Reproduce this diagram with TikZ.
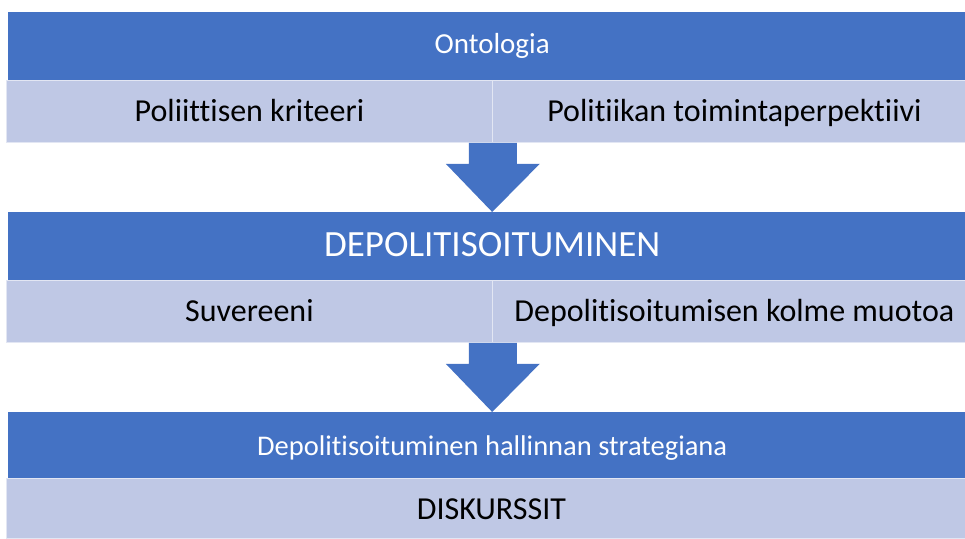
\documentclass[tikz,border=0pt]{standalone}
\usepackage{fontspec}
\setmainfont{Carlito}[Ligatures={NoCommon}]
\usetikzlibrary{calc}
\definecolor{darkblue}{HTML}{4472C4}
\definecolor{lightblue}{HTML}{BFC8E5}

\begin{document}
\begin{tikzpicture}[
    x=1pt, y=-1pt,
    %
    head/.style={fill=darkblue, text=white, minimum width=968pt, minimum height=68pt,
                 inner sep=0pt, anchor=north west, text height=20pt, text depth=0pt},
    cell/.style={fill=lightblue, draw=lightblue!45!white, line width=0.8pt, minimum height=62pt,
                 inner sep=0pt, anchor=north west, text height=20pt, text depth=0pt,
                 font=\fontsize{32}{38}\selectfont},
    %
    blockarrow/.style={fill=darkblue}
    ]
    \useasboundingbox (0,0) rectangle (965,538);
    \clip (0,0) rectangle (965,538);

    \node[head, text height=15pt, font=\fontsize{29}{34}\selectfont] (onto) at (8,12) {Ontologia};
    \node[cell, minimum width=486pt] (krit)   at (6,80)   {Poliittisen kriteeri};
    \node[cell, minimum width=484pt] (persp)  at (492,80) {Politiikan toimintaperpektiivi};
    %
    \node[head, font=\fontsize{37}{44}\selectfont] (depol)  at (8,212) {DEPOLITISOITUMINEN};
    \node[cell, minimum width=486pt] (suv)    at (6,280)   {Suvereeni};
    \node[cell, minimum width=484pt] (muodot) at (492,280) {Depolitisoitumisen kolme muotoa};
    %
    \node[head, minimum height=66pt, font=\fontsize{28.5}{34}\selectfont] (strat) at (8,412)
        {Depolitisoituminen hallinnan strategiana};
    \node[cell, minimum width=970pt, minimum height=60pt, text height=22pt] (disk) at (6,478) {DISKURSSIT};
    %
    \foreach \a/\b in {krit/depol, suv/strat}
        \fill[blockarrow] ($(\a.south east)+(-24,0)$) -- ++(0,21) -- ++(-23,0) -- (\b.north)
            -- ($(\a.south east)+(47,21)$) -- ++(-23,0) -- ($(\a.south east)+(24,0)$) -- cycle;
    %
\end{tikzpicture}
\end{document}
